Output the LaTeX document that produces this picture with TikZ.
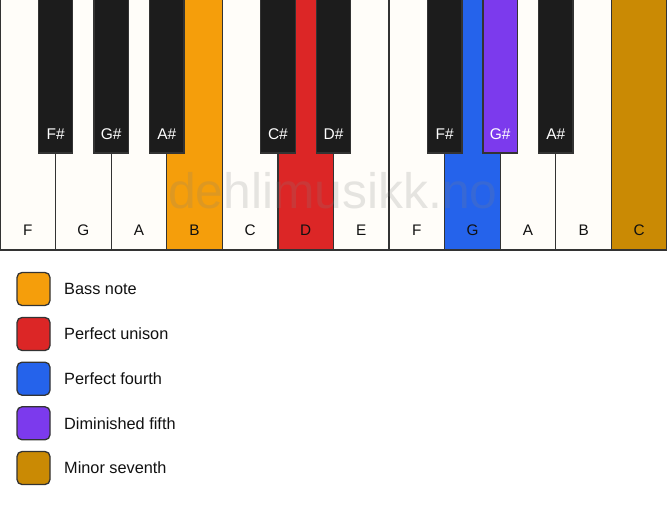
\documentclass[tikz,border=0pt]{standalone}
\usepackage{fontspec}
\setmainfont{Liberation Sans}
\definecolor{keywhite}{HTML}{FFFDF9}
\definecolor{keyblack}{HTML}{1C1C1C}
\definecolor{keyline}{HTML}{333333}
\definecolor{bassorange}{HTML}{F59E0B}
\definecolor{unisonred}{HTML}{DC2626}
\definecolor{fourthblue}{HTML}{2563EB}
\definecolor{dimpurple}{HTML}{7C3AED}
\definecolor{seventhgold}{HTML}{CA8A04}
\definecolor{textdark}{HTML}{111111}
\begin{document}
\begin{tikzpicture}[x=1pt,y=-1pt,
  whitekey/.style={draw=keyline, line width=1.3pt, fill=keywhite, minimum width=55.583pt, minimum height=252pt, anchor=north west, inner sep=0pt, outer sep=0pt},
  blackkey/.style={draw=keyline, line width=1.3pt, fill=keyblack, minimum width=34.5pt, minimum height=155pt, anchor=north, inner sep=0pt, outer sep=0pt},
  wlabel/.style={font=\fontsize{15.3}{18}\selectfont, text=textdark, anchor=base, inner sep=0pt},
  blabel/.style={font=\fontsize{15.5}{18}\selectfont, text=white, anchor=base, inner sep=0pt},
  watermark/.style={font=\fontsize{49.8}{56}\selectfont, text=gray, opacity=0.2, anchor=base, inner sep=0pt},
  legendbox/.style={draw=keyline, line width=1.3pt, rounded corners=5pt, minimum width=33pt, minimum height=33pt, inner sep=0pt},
  legendtext/.style={font=\fontsize{16.3}{19}\selectfont, text=textdark, anchor=base west, inner sep=0pt}
]
\useasboundingbox[fill=white] (0,0) rectangle (667,506);
% white keys
\foreach \i/\n/\c in {0/F/keywhite,1/G/keywhite,2/A/keywhite,3/B/bassorange,4/C/keywhite,5/D/unisonred,6/E/keywhite,7/F/keywhite,8/G/fourthblue,9/A/keywhite,10/B/keywhite,11/C/seventhgold}{
  \node[whitekey, fill=\c] (w\i) at (\i*55.583,-2) {};
  \node[wlabel] (lw\i) at ([yshift=14.3pt]w\i.south) {\n};
}
% watermark
\node[watermark] (wm) at (333,208) {dehlimusikk.no};
% black keys
\foreach \i/\n/\c in {1/F\#/keyblack,2/G\#/keyblack,3/A\#/keyblack,5/C\#/keyblack,6/D\#/keyblack,8/F\#/keyblack,9/G\#/dimpurple,10/A\#/keyblack}{
  \node[blackkey, fill=\c] (b\i) at (\i*55.583,-2) {};
  \node[blabel] (lb\i) at ([yshift=14pt]b\i.south) {\n};
}
% legend
\foreach \k/\y/\c/\t in {1/289/bassorange/Bass note,2/334/unisonred/Perfect unison,3/378.7/fourthblue/Perfect fourth,4/423.3/dimpurple/Diminished fifth,5/468/seventhgold/Minor seventh}{
  \node[legendbox, fill=\c] (lg\k) at (33.5,\y) {};
  \node[legendtext] (lt\k) at (64,\y+5.8) {\t};
}
\end{tikzpicture}
\end{document}
